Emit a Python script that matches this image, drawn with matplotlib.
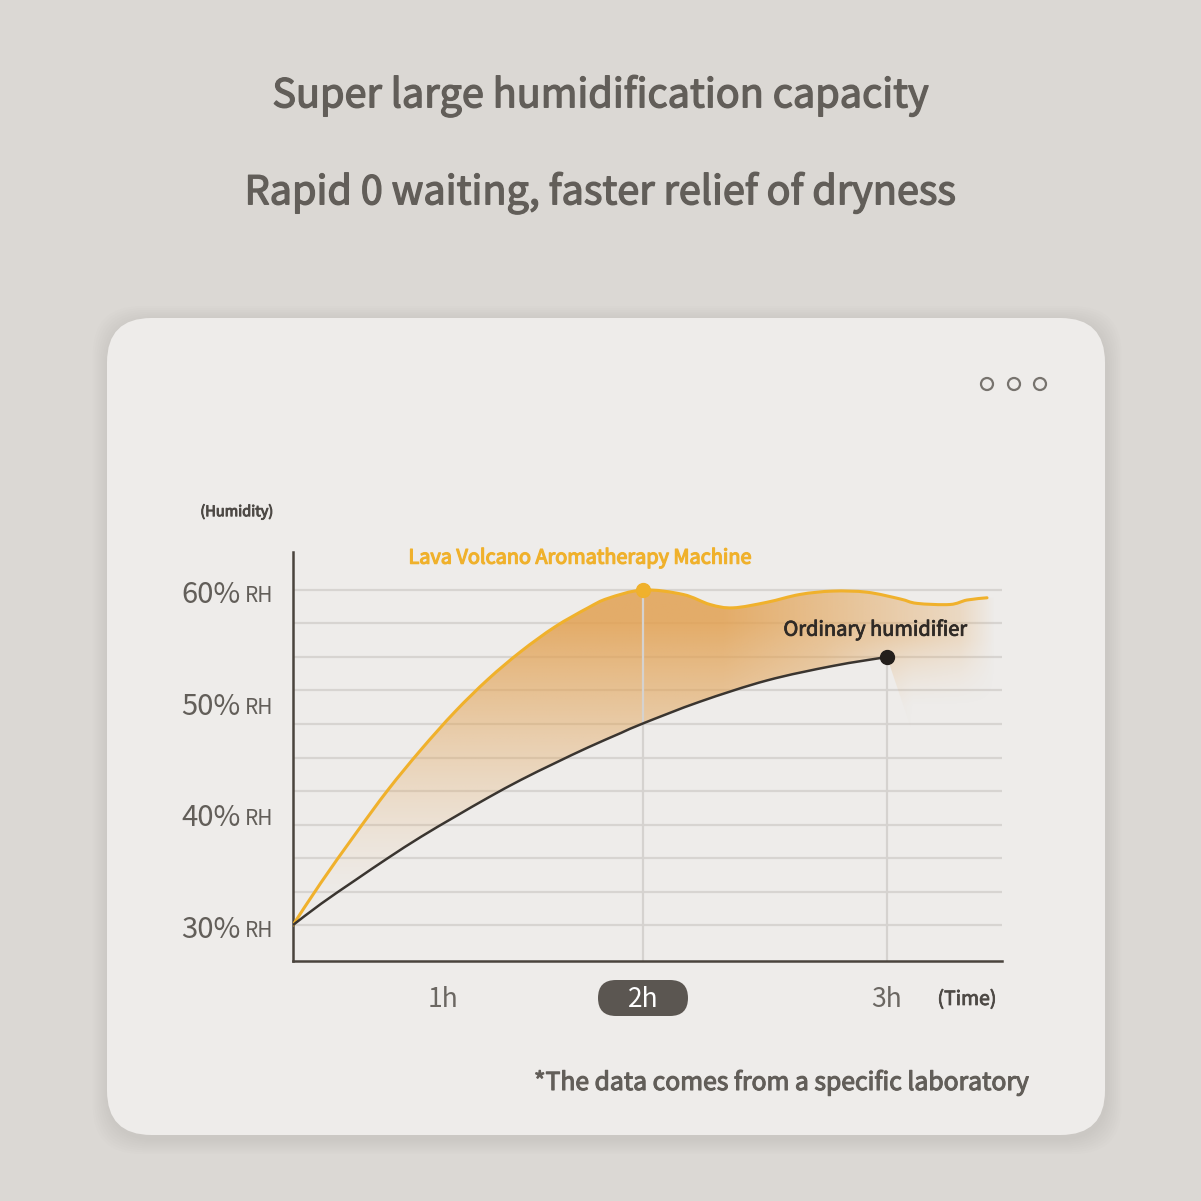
import numpy as np
import matplotlib.pyplot as plt
from matplotlib.patches import FancyBboxPatch, PathPatch, Circle
from matplotlib.path import Path
from matplotlib.colors import to_rgb
import matplotlib.transforms as mtransforms
import matplotlib.patheffects as pe

plt.rcParams['font.family'] = ['Noto Sans CJK SC', 'DejaVu Sans']

# ---------------------------------------------------------------- data
# x in chart units (0 = start), y in %RH
lava_t = [0, 0.28, 0.62, 0.95, 1.28, 1.62, 1.95, 2.28, 2.62, 2.95, 3.15, 3.5,
          3.9, 4.17, 4.4, 4.74, 5.07, 5.4, 5.74, 6.07, 6.24, 6.57, 6.74, 6.94]
lava_rh = [30.0, 33.8, 38.1, 42.1, 45.7, 49.1, 52.0, 54.5, 56.7, 58.4, 59.25, 60.0,
           59.6, 58.7, 58.4, 58.9, 59.6, 59.9, 59.8, 59.2, 58.8, 58.7, 59.1, 59.3]
ordinary_t = [0, 0.28, 0.62, 0.95, 1.28, 1.62, 1.95, 2.28, 2.62, 2.95, 3.28, 3.5,
              4.07, 4.74, 5.4, 5.94]
ordinary_rh = [30.0, 31.9, 34.0, 36.0, 37.9, 39.7, 41.4, 43.0, 44.5, 45.9, 47.2, 48.05,
               50.0, 51.9, 53.2, 54.0]

time_ticks = [1.5, 3.5, 5.94]
time_labels = ['1h', '2h', '3h']
rh_ticks = [30, 40, 50, 60]
rh_labels = ['30%', '40%', '50%', '60%']
grid_rh = [30, 33, 36, 39, 42, 45, 48, 51, 54, 57, 60]

lava_color = '#f0b12c'
fill_color = '#e2a152'
dark = '#3a3530'
text_grey = '#625e59'
XMAX, YMIN, YMAX = 7.09, 26.78, 63.4


def smooth(t, y):
    # catmull-rom through the points, as bezier segments
    p = np.column_stack([t, y]).astype(float)
    verts, codes = [p[0]], [Path.MOVETO]
    for i in range(len(p) - 1):
        p0 = p[i - 1] if i > 0 else p[i]
        p3 = p[i + 2] if i + 2 < len(p) else p[i + 1]
        verts += [p[i] + (p[i + 1] - p0) / 6, p[i + 1] - (p3 - p[i]) / 6, p[i + 1]]
        codes += [Path.CURVE4] * 3
    return np.array(verts), codes


def heavy(color, w=0.8):
    return [pe.withStroke(linewidth=w, foreground=color)]


# ---------------------------------------------------------------- figure
fig = plt.figure(figsize=(12.01, 12.01), dpi=100)
fig.patch.set_facecolor('#dbd8d4')

# card with soft shadow
cx, cy, cw, ch = 107 / 1201, 1 - 1135 / 1201, 998 / 1201, 817 / 1201
for i in range(8):
    g = (8 - i) * 0.0016
    fig.patches.append(FancyBboxPatch((cx - g + 0.001, cy - g - 0.003), cw + 2 * g, ch + 2 * g,
                                      boxstyle='round,pad=0,rounding_size=0.04',
                                      transform=fig.transFigure, fc='#b5b1ac', ec='none',
                                      alpha=0.045, zorder=0))
fig.patches.append(FancyBboxPatch((cx, cy), cw, ch, boxstyle='round,pad=0,rounding_size=0.037',
                                  transform=fig.transFigure, fc='#eeecea', ec='none', zorder=1))

# three window dots
for px in [987, 1014, 1040]:
    fig.patches.append(Circle((px / 1201, 1 - 384 / 1201), 6 / 1201, transform=fig.transFigure,
                              fc='none', ec='#77736e', lw=1.6, zorder=2))

fig.text(0.5, 1 - 96 / 1201, 'Super large humidification capacity', ha='center', va='center',
         fontsize=28.5, color=text_grey, path_effects=heavy(text_grey, 1.0))
fig.text(0.5, 1 - 193 / 1201, 'Rapid 0 waiting, faster relief of dryness', ha='center', va='center',
         fontsize=28.5, color=text_grey, path_effects=heavy(text_grey, 1.0))

# ---------------------------------------------------------------- chart
ax = fig.add_axes([293 / 1201, 1 - 961 / 1201, 709 / 1201, 409 / 1201])
ax.set_facecolor('none')
ax.set_zorder(3)
ax.set_xlim(0, XMAX)
ax.set_ylim(YMIN, YMAX)

for s in ['top', 'right']:
    ax.spines[s].set_visible(False)
for s in ['left', 'bottom']:
    ax.spines[s].set_color('#4a443d')
    ax.spines[s].set_linewidth(1.8)

for r in grid_rh:
    ax.axhline(r, color='#d7d4d1', lw=1.6, zorder=0)
ax.vlines(time_ticks[1], YMIN, max(lava_rh), color='#d5d2cf', lw=1.6, zorder=2)
ax.vlines(time_ticks[2], YMIN, ordinary_rh[-1], color='#d5d2cf', lw=1.6, zorder=2)

# gradient fill under the lava curve
tt, yy = np.meshgrid(np.linspace(0, XMAX, 400), np.linspace(YMIN, YMAX, 400))
w = np.clip((tt - 5.3) / 0.9, 0, 1)
alpha = 0.85 * np.clip((yy - 31) / 26, 0, 1) ** 1.5
alpha *= np.clip(1 - (tt - 4.3) / 3.4, 0.3, 1)
alpha *= (1 - w) + w * np.clip((yy - 49.5) / 6, 0, 1) ** 1.3
alpha *= np.clip((7.02 - tt) / 0.35, 0, 1)
rgba = np.zeros(tt.shape + (4,))
rgba[..., :3] = to_rgb(fill_color)
rgba[..., 3] = alpha
im = ax.imshow(rgba, extent=[0, XMAX, YMIN, YMAX], origin='lower', aspect='auto', zorder=1)

uv, uc = smooth(lava_t, lava_rh)
lv, lc = smooth(ordinary_t, ordinary_rh)
clip_verts = np.vstack([uv, [[XMAX, lava_rh[-1]], [XMAX, 46], [ordinary_t[-1] + 0.3, 46]],
                        lv[::-1], [lv[0]]])
clip_codes = uc + [Path.LINETO] * 4 + [Path.CURVE4] * (len(lv) - 1) + [Path.CLOSEPOLY]
clip = PathPatch(Path(clip_verts, clip_codes), transform=ax.transData, fc='none', ec='none')
ax.add_patch(clip)
im.set_clip_path(clip)

ax.add_patch(PathPatch(Path(uv, uc), fill=False, ec=lava_color, lw=2.2, zorder=3, capstyle='round'))
ax.add_patch(PathPatch(Path(lv, lc), fill=False, ec=dark, lw=1.8, zorder=3))
ax.plot(time_ticks[1], max(lava_rh), 'o', ms=10, color=lava_color, zorder=4)
ax.plot(ordinary_t[-1], ordinary_rh[-1], 'o', ms=10, color='#231f1c', zorder=4)

ax.text(2.87, 62.85, 'Lava Volcano Aromatherapy Machine', ha='center', va='center',
        fontsize=14.3, color=lava_color, path_effects=heavy(lava_color, 0.9))
ax.text(5.82, 56.4, 'Ordinary humidifier', ha='center', va='center',
        fontsize=14.4, color='#2f2a26', path_effects=heavy('#2f2a26', 0.6))

# y labels
ax.set_yticks([])
trans = mtransforms.blended_transform_factory(ax.transAxes, ax.transData)
for r, lab in zip(rh_ticks, rh_labels):
    ax.text(-0.074, r - 0.45, lab, transform=trans, ha='right', va='center', fontsize=21, color=text_grey)
    ax.text(-0.068, r - 0.55, 'RH', transform=trans, ha='left', va='center', fontsize=15, color=text_grey)
ax.text(-0.079, 67.0, '(Humidity)', transform=trans, ha='center', va='center', fontsize=10.5,
        color='#4d4945', path_effects=heavy('#4d4945', 0.7))

# x labels
ax.set_xticks(time_ticks, time_labels)
ax.tick_params(axis='x', length=0, pad=18, labelsize=19, labelcolor='#6b6762')
ax.get_xticklabels()[1].set_color('white')
ax.get_xticklabels()[1].set_zorder(5)
# pill behind the highlighted tick
px = fig.transFigure.inverted().transform(ax.transData.transform((time_ticks[1], YMIN)))[0]
fig.patches.append(FancyBboxPatch((px - 45 / 1201, 1 - 1016 / 1201), 90 / 1201, 36 / 1201,
                                  boxstyle='round,pad=0,rounding_size=%f' % (18 / 1201),
                                  transform=fig.transFigure, fc='#5b5651', ec='none', zorder=2))
ax.text(6.74, -0.094, '(Time)', transform=mtransforms.blended_transform_factory(ax.transData, ax.transAxes),
        ha='center', va='center', fontsize=14, color='#4d4945', path_effects=heavy('#4d4945', 0.6))

fig.text(781 / 1201, 1 - 1083 / 1201, '*The data comes from a specific laboratory', ha='center', va='center',
         fontsize=17.8, color=text_grey, path_effects=heavy(text_grey, 0.8))

fig.savefig('out.png', dpi=100, facecolor=fig.get_facecolor())
